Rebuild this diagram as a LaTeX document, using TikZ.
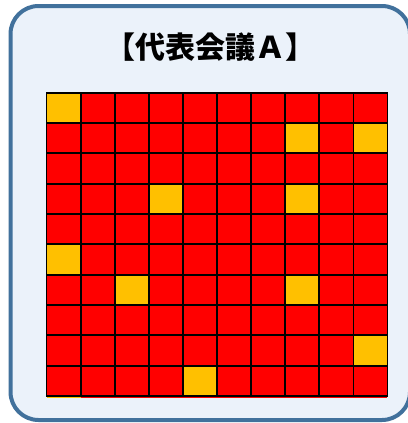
\documentclass[tikz,border=0pt]{standalone}
\usepackage{fontspec}
\newfontfamily\cjkfont{Noto Sans CJK JP}
\definecolor{boxfill}{HTML}{EBF2FA}
\definecolor{boxline}{HTML}{41719C}
\definecolor{cellred}{HTML}{FF0000}
\definecolor{cellgold}{HTML}{FFC000}
\tikzset{
  panel/.style={draw=boxline, line width=4pt, fill=boxfill, rounded corners=28pt},
  cellbox/.style={draw=black, line width=1.8pt, fill=cellred},
  goldcell/.style={draw=black, line width=1.8pt, fill=cellgold},
  titletext/.style={font=\cjkfont\bfseries\fontsize{30}{34}\selectfont, inner sep=0pt}
}
\begin{document}
\begin{tikzpicture}[x=1pt,y=-1pt]
\useasboundingbox (0,0) rectangle (407,423);
\fill[white] (0,0) rectangle (407,423);
\draw[panel] (10.5,6) rectangle (410,420);
\node[titletext] (title) at (210,47) {【代表会議Ａ】};
% clipped sliver of an eleventh row
\fill[cellred] (46.5,396) rectangle (387,398);
\fill[cellgold] (46.5,396) rectangle (80.6,398);
\def\cw{34.1}
\def\ch{30.33}
\foreach \r in {0,...,9}{
  \foreach \c in {0,...,9}{
    \draw[cellbox] ({46.5+\c*\cw},{92.7+\r*\ch}) rectangle ++(\cw,\ch);
  }
}
\foreach \r/\c in {0/0,1/7,1/9,3/3,3/7,5/0,6/2,6/7,8/9,9/4}{
  \draw[goldcell] ({46.5+\c*\cw},{92.7+\r*\ch}) rectangle ++(\cw,\ch);
}
\end{tikzpicture}
\end{document}
